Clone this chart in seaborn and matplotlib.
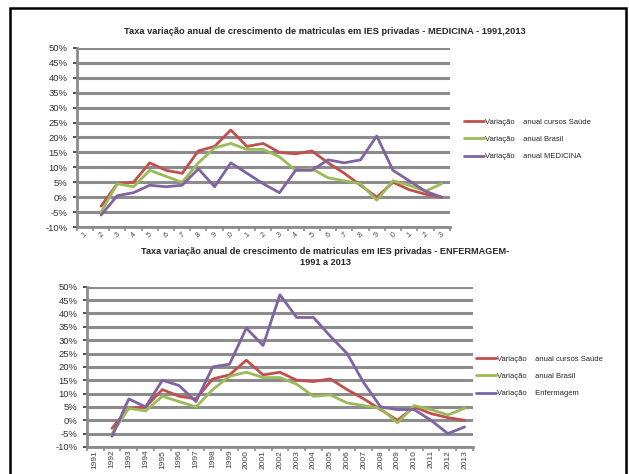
import pandas as pd
import numpy as np
import matplotlib
matplotlib.use('Agg')
import matplotlib.pyplot as plt
import seaborn as sns
from matplotlib.patches import Rectangle
from matplotlib.ticker import PercentFormatter

# data (annual growth, %)
anos = [str(a) for a in range(1991, 2014)]
saude = [np.nan, -3, 4.5, 5, 11.5, 9, 8, 15.5, 17, 22.5, 17, 18, 15, 14.5, 15.5, 11.5, 8, 4, 0, 5, 2.5, 1, 0]
brasil = [np.nan, -5, 4.5, 3.5, 9, 7, 5, 11.5, 16.5, 18, 16, 16, 13.5, 9, 9.5, 6.5, 5.5, 4.5, -1, 5.5, 4, 2, 4.5]
medicina = [np.nan, -6, 0.5, 1.5, 4, 3.5, 4, 9.5, 3.5, 11.5, 8, 4.5, 1.5, 9, 9, 12.5, 11.5, 12.5, 20.5, 9, 5.5, 2, 0]
enfermagem = [np.nan, -6, 8, 5, 15, 13, 7, 20, 21, 34.5, 28, 47, 38.5, 38.5, 31.5, 25, 14, 5, 4, 4, 0, -5, -2.5]

lbl_saude = 'Variação    anual cursos Saúde'
lbl_brasil = 'Variação    anual Brasil'
lbl_med = 'Variação    anual MEDICINA'
lbl_enf = 'Variação    Enfermagem'

cores = ['#C0504D', '#9BBB59', '#8064A2']

sns.set_theme(style='white')
plt.rcParams['font.family'] = ['Liberation Sans', 'DejaVu Sans']
plt.rcParams['axes.unicode_minus'] = False

fig = plt.figure(figsize=(6.29, 4.74), dpi=100)
fig.patches.append(Rectangle((10/629, -0.05), 616/629, 1.05 - 8/474, transform=fig.transFigure,
                             fill=False, edgecolor='black', linewidth=1.8))


def painel(ax, serie, lbl_serie, rot, tick_lbls, tick_fs, leg_pos):
    df = pd.DataFrame({'pos': range(len(anos)),
                       lbl_saude: saude, lbl_brasil: brasil, lbl_serie: serie})
    long = df.melt(id_vars='pos', var_name='serie', value_name='valor').dropna()
    sns.lineplot(data=long, x='pos', y='valor', hue='serie', palette=cores, linewidth=2,
                 ax=ax, legend=True)
    ax.set_xlim(-0.5, len(anos) - 0.5)
    ax.set_ylim(-10, 50)
    ax.set_yticks(range(-10, 51, 5))
    ax.yaxis.set_major_formatter(PercentFormatter(decimals=0))
    ax.yaxis.grid(True, color='#8c8c8c', linewidth=2.2)
    ax.set_axisbelow(True)
    ax.set_xticks(range(len(anos)))
    ax.set_xticklabels(tick_lbls, rotation=rot, fontsize=tick_fs, color='#404040')
    ax.set_xticks(np.arange(-0.5, len(anos)), minor=True)
    ax.tick_params(axis='x', which='major', length=0, pad=2)
    ax.tick_params(axis='x', which='minor', length=3, color='#8c8c8c', width=1.2, bottom=True)
    ax.tick_params(axis='y', labelsize=6.8, colors='#303030', length=3, width=1.2, left=True)
    for s in ['top', 'right']:
        ax.spines[s].set_visible(False)
    for s in ['left', 'bottom']:
        ax.spines[s].set_color('#8c8c8c')
        ax.spines[s].set_linewidth(2)
    ax.set_xlabel('')
    ax.set_ylabel('')
    ax.legend(title=None, frameon=False, fontsize=5.5, loc='center left', bbox_to_anchor=leg_pos,
              handlelength=2.6, handletextpad=0.1, labelspacing=1.3)


ax1 = fig.add_axes([0.122, 0.521, 0.593, 0.378])
painel(ax1, medicina, lbl_med, 45, ['.' + a[-1] for a in anos], 5, (1.02, 0.49))
fig.text(325/629, 1 - 31/474,
         'Taxa variação anual de crescimento de matriculas em IES privadas - MEDICINA - 1991,2013',
         ha='center', va='center', fontsize=6.7, fontweight='bold')

ax2 = fig.add_axes([0.138, 0.057, 0.614, 0.338])
painel(ax2, enfermagem, lbl_enf, 90, anos, 6, (0.99, 0.44))
fig.text(325/629, 1 - 257/474,
         'Taxa variação anual de crescimento de matriculas em IES privadas - ENFERMAGEM-\n1991 a 2013',
         ha='center', va='center', fontsize=6.6, fontweight='bold', linespacing=1.4)

fig.savefig('out.png', dpi=100)
